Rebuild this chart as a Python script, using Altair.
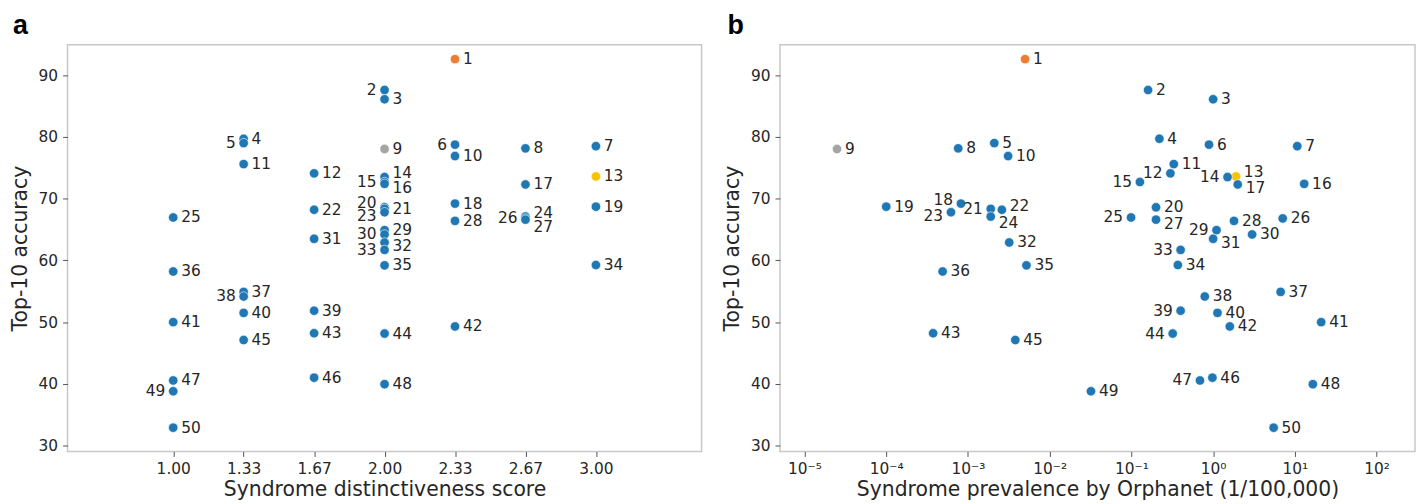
import altair as alt
import pandas as pd

ranks = list(range(1, 51))
accuracy = [92.6, 87.6, 86.1, 79.7, 79.0, 78.75, 78.5, 78.15, 78.05, 76.9,
            75.6, 74.1, 73.6, 73.5, 72.7, 72.4, 72.3, 69.2, 68.7, 68.6,
            68.35, 68.2, 67.8, 67.1, 66.95, 66.8, 66.6, 66.4, 64.9, 64.2,
            63.5, 62.9, 61.7, 59.25, 59.2, 58.2, 54.9, 54.15, 51.85, 51.5,
            50.0, 49.3, 48.2, 48.15, 47.1, 41.0, 40.55, 39.95, 38.8, 32.9]
distinctiveness = [7/3, 2, 2, 4/3, 4/3, 7/3, 3, 8/3, 2, 7/3,
                   4/3, 5/3, 3, 2, 2, 2, 8/3, 7/3, 3, 2,
                   2, 5/3, 2, 8/3, 1, 8/3, 8/3, 7/3, 2, 2,
                   5/3, 2, 2, 3, 2, 1, 4/3, 4/3, 5/3, 4/3,
                   1, 7/3, 5/3, 2, 4/3, 5/3, 1, 2, 1, 1]
prevalence = [5.0e-3, 0.16, 1.0, 0.22, 2.1e-3, 0.89, 10.7, 7.6e-4, 2.5e-5, 3.1e-3,
              0.33, 0.30, 1.9, 1.5, 0.127, 13.0, 2.0, 8.2e-4, 1.0e-4, 0.20,
              1.9e-3, 2.6e-3, 6.2e-4, 1.9e-3, 0.099, 7.1, 0.20, 1.8, 1.1, 3.0,
              1.0, 3.2e-3, 0.40, 0.37, 5.2e-3, 4.9e-4, 6.7, 0.79, 0.40, 1.13,
              21.0, 1.6, 3.75e-4, 0.32, 3.8e-3, 0.98, 0.69, 16.6, 0.032, 5.5]
highlight = {1: "orange", 9: "gray", 13: "yellow"}

x_ticks_a = [1, 4/3, 5/3, 2, 7/3, 8/3, 3]
x_ticks_b = [1e-5, 1e-4, 1e-3, 1e-2, 1e-1, 1, 10, 100]
x_tick_labels_b = ["10⁻⁵", "10⁻⁴", "10⁻³", "10⁻²", "10⁻¹", "10⁰", "10¹", "10²"]
y_ticks = [30, 40, 50, 60, 70, 80, 90]

# label placement codes (default: right of the point)
place_a = {2: "l", 5: "l", 6: "l", 15: "l", 26: "l", 30: "l", 33: "l", 38: "l", 49: "l",
           20: "lu", 23: "ld", 14: "ru", 24: "ru", 16: "rd", 32: "rd", 27: "rdd"}
place_b = {12: "l", 14: "l", 15: "l", 21: "l", 25: "l", 29: "l", 33: "l", 39: "l", 44: "l", 47: "l",
           18: "lu", 23: "ld", 13: "ru", 22: "ru", 17: "rd", 24: "rdd", 27: "rd", 31: "rd"}
offsets = {"r": ("left", 8, 0), "l": ("right", -8, 0), "ru": ("left", 8, -4),
           "rd": ("left", 8, 4), "rdd": ("left", 8, 7), "lu": ("right", -8, -4),
           "ld": ("right", -8, 4)}

df = pd.DataFrame({
    "rank": ranks,
    "label": [str(r) for r in ranks],
    "acc": accuracy,
    "dist": distinctiveness,
    "prev": prevalence,
    "group": [highlight.get(r, "blue") for r in ranks],
    "pos_a": [place_a.get(r, "r") for r in ranks],
    "pos_b": [place_b.get(r, "r") for r in ranks],
})

FONT = "DejaVu Sans"
TXT = "#262626"
color = alt.Color("group:N", legend=None,
                  scale=alt.Scale(domain=["blue", "orange", "gray", "yellow"],
                                  range=["#1f77b4", "#ed7d31", "#a5a5a5", "#ffc000"]))

y_enc = alt.Y("acc:Q", title="Top-10 accuracy",
              scale=alt.Scale(domain=[29.05, 94.95], nice=False, zero=False),
              axis=alt.Axis(values=y_ticks, titlePadding=8))


def panel(xfield, xscale, xaxis, xtitle, poscol, letter, letter_dx, w):
    x_enc = alt.X(f"{xfield}:Q", title=xtitle, scale=xscale, axis=xaxis)
    base = alt.Chart(df).encode(x=x_enc, y=y_enc)
    pts = base.mark_circle(size=90, opacity=1, stroke="white", strokeWidth=0.6).encode(color=color)
    layers = [pts]
    for code, (align, dx, dy) in offsets.items():
        layers.append(
            base.transform_filter(alt.datum[poscol] == code)
            .mark_text(align=align, baseline="middle", dx=dx, dy=dy, font=FONT,
                       fontSize=15.5, color=TXT)
            .encode(text="label:N")
        )
    letter_layer = alt.Chart(pd.DataFrame({"t": [letter]})).mark_text(
        align="left", baseline="alphabetic", font="Liberation Sans", fontSize=27,
        fontWeight="bold", color="black"
    ).encode(text="t:N", x=alt.value(letter_dx), y=alt.value(-11))
    layers.append(letter_layer)
    return alt.layer(*layers).properties(width=w, height=410)


pa = panel("dist",
           alt.Scale(domain=[0.5, 3.5], nice=False, zero=False),
           alt.Axis(values=x_ticks_a, format=".2f"),
           "Syndrome distinctiveness score", "pos_a", "a", -55, 639)

label_expr = "[" + ",".join(f"'{s}'" for s in x_tick_labels_b) + "][round(log(datum.value)/LN10)+5]"
pb = panel("prev",
           alt.Scale(type="log", domain=[10 ** -5.3, 10 ** 2.47], nice=False),
           alt.Axis(values=x_ticks_b, labelExpr=label_expr),
           "Syndrome prevalence by Orphanet (1/100,000)", "pos_b", "b", -53, 640)

chart = alt.hconcat(pa, pb, spacing=19).properties(
    padding={"left": 1, "top": 1, "right": 0, "bottom": 0}
).configure_view(
    stroke="#c8c8c8", strokeWidth=1.5
).configure_axis(
    grid=False, domain=False, tickSize=5, tickColor="#555555", tickWidth=1,
    labelFont=FONT, labelFontSize=15.5, labelColor=TXT, labelPadding=5,
    titleFont=FONT, titleFontSize=20.5, titleFontWeight="normal", titleColor=TXT,
).configure_axisX(titlePadding=3)

chart.save("out.html", embed_options={"renderer": "svg", "actions": False})
